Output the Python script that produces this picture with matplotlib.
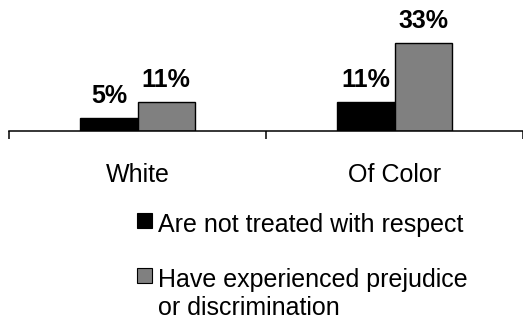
import matplotlib
matplotlib.use("Agg")
import matplotlib.pyplot as plt
from matplotlib.patches import Rectangle
import numpy as np

categories = ["White", "Of Color"]
series_names = ["Are not treated with respect",
                "Have experienced prejudice\nor discrimination"]
not_respected = [5, 11]
prejudice = [11, 33]
value_labels_1 = ["5%", "11%"]
value_labels_2 = ["11%", "33%"]
colors = ["#000000", "#808080"]

plt.rcParams['font.family'] = ['Liberation Sans', 'DejaVu Sans']

W, H = 523, 320
fig = plt.figure(figsize=(W / 100, H / 100), dpi=100)
fig.patch.set_facecolor("white")

ax_left, ax_right = 9, 523
ax_bottom_px = 131
ax = fig.add_axes([ax_left / W, 1 - ax_bottom_px / H, (ax_right - ax_left) / W, ax_bottom_px / H])
ax.set_facecolor("none")

x = np.arange(len(categories))
bw = 0.222
b1 = ax.bar(x - bw / 2, not_respected, bw, color=colors[0], edgecolor="black", linewidth=1.0)
b2 = ax.bar(x + bw / 2, prejudice, bw, color=colors[1], edgecolor="black", linewidth=1.0)

fs = 18
for bars, labs in ((b1, value_labels_1), (b2, value_labels_2)):
    for rect, lab in zip(bars, labs):
        ax.annotate(lab, (rect.get_x() + rect.get_width() / 2, rect.get_height()),
                    xytext=(0, 10.5), textcoords="offset points", ha="center", va="baseline",
                    fontsize=fs, fontweight="bold")

ax.set_xlim(-0.5, 1.5)
ax.set_ylim(0, 48.9)
for s in ("left", "right", "top"):
    ax.spines[s].set_visible(False)
ax.spines["bottom"].set_linewidth(1.1)
ax.set_yticks([])
ax.set_xticks(x)
ax.set_xticklabels(categories, fontsize=fs)
ax.tick_params(axis="x", which="major", length=0, pad=23)
ax.set_xticks([-0.5, 0.5, 1.5], minor=True)
ax.tick_params(axis="x", which="minor", length=6, width=1.1, direction="out")

# legend (manual to keep square aligned with first text line)
def fy(py):
    return 1 - py / H

# (square top px, last-line baseline px)
entries = [(213, 232), (268, 315)]
for (sq_top, base), name, col in zip(entries, series_names, colors):
    fig.patches.append(Rectangle((137 / W, fy(sq_top + 15)), 15 / W, 15 / H,
                                 transform=fig.transFigure, facecolor=col,
                                 edgecolor="black", linewidth=0.8))
    fig.text(158 / W, fy(base), name, fontsize=fs, ha="left", va="baseline",
             linespacing=1.2)

fig.savefig("out.png", dpi=100)
